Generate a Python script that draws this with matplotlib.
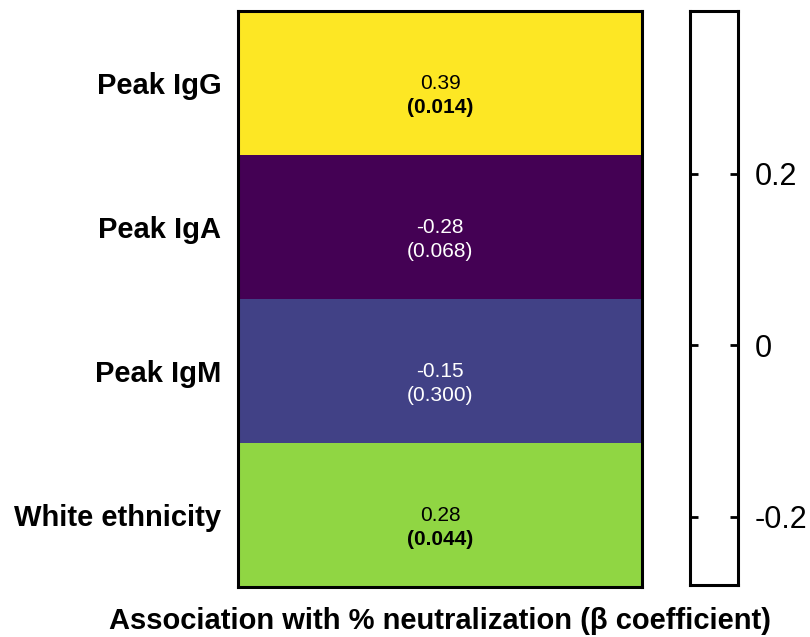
import matplotlib
matplotlib.use("Agg")
import matplotlib.pyplot as plt
import numpy as np

plt.rcParams['font.family'] = ['Liberation Sans', 'DejaVu Sans']

# data
rows = ["Peak IgG", "Peak IgA", "Peak IgM", "White ethnicity"]
beta = [0.39, -0.28, -0.15, 0.28]
pvals = ["0.014", "0.068", "0.300", "0.044"]
cbar_ticks = [-0.2, 0, 0.2]
cbar_labels = ["-0.2", "0", "0.2"]

vmin, vmax = min(beta), max(beta)

fig = plt.figure(figsize=(8.1, 6.37), dpi=100)
ax = fig.add_axes([0.294, 0.079, 0.499, 0.904])
cax = fig.add_axes([0.852, 0.081, 0.059, 0.902])

data = np.array(beta).reshape(-1, 1)
ax.imshow(data, cmap='viridis', vmin=vmin, vmax=vmax, aspect='auto')

for i, (b, p) in enumerate(zip(beta, pvals)):
    col = 'white' if b < 0 else 'black'
    ax.text(0, i + 0.005, f"{b:.2f}", ha='center', va='center', fontsize=15, color=col)
    ax.text(0, i + 0.17, f"({p})", ha='center', va='center', fontsize=15, color=col,
            fontweight='bold' if float(p) < 0.05 else 'normal')

ax.set_xticks([])
ax.set_yticks(range(len(rows)))
ax.set_yticklabels(rows, fontsize=21, fontweight='bold')
ax.tick_params(axis='y', length=0, pad=12)
for s in ax.spines.values():
    s.set_linewidth(2.2)
ax.set_xlabel("Association with % neutralization (\u03b2 coefficient)",
              fontsize=21, fontweight='bold')
ax.xaxis.set_label_coords(0.5, -0.036, transform=ax.transAxes)
ax.xaxis.label.set_va('top')

# empty white colour scale box
cax.set_facecolor('white')
cax.set_ylim(vmin, vmax)
cax.set_xticks([])
cax.set_yticks(cbar_ticks)
cax.set_yticklabels(cbar_labels, fontsize=22)
cax.yaxis.tick_right()
cax.tick_params(axis='y', direction='in', left=True, right=True, length=6, width=2, pad=12)
for s in cax.spines.values():
    s.set_linewidth(2.2)

fig.savefig("out.png", dpi=100)
